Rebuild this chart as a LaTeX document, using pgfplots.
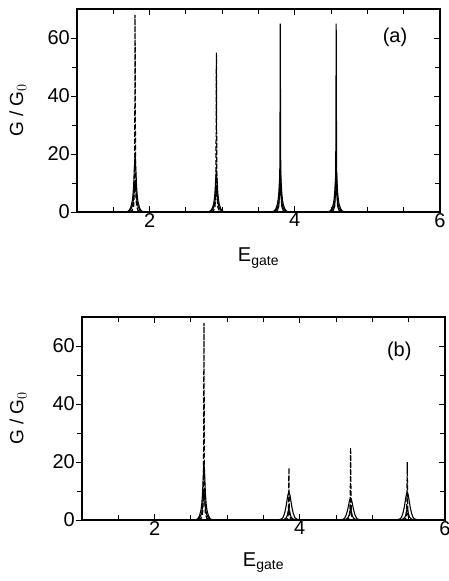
\documentclass[border=0pt]{standalone}
\usepackage{pgfplots}
\pgfplotsset{compat=1.18}
\usepackage{fontspec}
\setmainfont{Liberation Sans}
\pgfplotsset{
  common/.style={
    scale only axis, width=363pt, height=203pt,
    xmin=1, xmax=6, ymin=0, ymax=70,
    axis line style={line width=1.3pt},
    /pgf/number format/assume math mode=true,
    tick style={line width=1pt, black},
    major tick length=6pt, minor tick length=5pt,
    ticklabel style={font=\fontsize{20}{22}\selectfont},
    xlabel style={font=\fontsize{20}{22}\selectfont},
    ylabel style={font=\fontsize{19}{21}\selectfont},
  },
  mainax/.style={common,
    tick align=inside,
    xtick={2,4,6}, minor xtick={1.5,2.5,3,3.5,4.5,5,5.5},
    xticklabel style={inner sep=1pt},
    ytick={0,20,40,60}, minor ytick={10,30,50},
    ytick pos=right, yticklabels={},
  },
  leftax/.style={common,
    axis line style={draw=none},
    tick align=outside,
    xtick=\empty,
    ytick={0,20,40,60}, minor ytick={10,30,50},
    ytick pos=left,
    yticklabel style={inner sep=1pt},
  },
  spk/.style={black, line width=1.2pt, dash pattern=on 5pt off 2pt},
  spks/.style={black, line width=1.1pt},
  sol/.style={black, line width=1.1pt},
}
\begin{document}
\begin{tikzpicture}
\path[use as bounding box] (-77pt,-369pt) rectangle (371pt,212pt);
% ---------------- panel (a)
\begin{axis}[leftax, at={(0pt,0pt)}, anchor=south west,
  ylabel={G / G$_0$},
  ylabel style={at={(axis description cs:-0.163,0.5)}, rotate=0, anchor=center}]
\end{axis}
\begin{axis}[mainax, at={(0pt,0pt)}, anchor=south west,
  xlabel={E$_{\mathrm{gate}}$},
  xlabel style={at={(axis description cs:0.5,-0.227)}, anchor=center}]
% peak 1.80
\addplot[spk] coordinates {(1.72,0) (1.76,0.54) (1.78,2.04) (1.79,6.8) (1.794,17) (1.797,37.4) (1.80,68) (1.803,37.4) (1.806,17) (1.81,6.8) (1.82,2.04) (1.84,0.54) (1.88,0)};
\addplot[sol] coordinates {(1.66,0) (1.70,0.2) (1.72,0.6) (1.74,1.6) (1.76,3.6) (1.77,5.6) (1.78,9) (1.79,15) (1.80,20) (1.81,15) (1.82,9) (1.83,5.6) (1.84,3.6) (1.86,1.6) (1.88,0.6) (1.90,0.2) (1.94,0)};
\addplot[sol] coordinates {(1.66,0) (1.70,0.11) (1.72,0.33) (1.74,0.88) (1.76,1.98) (1.77,3.08) (1.78,4.95) (1.79,8.25) (1.80,11) (1.81,8.25) (1.82,4.95) (1.83,3.08) (1.84,1.98) (1.86,0.88) (1.88,0.33) (1.90,0.11) (1.94,0)};
% peak 2.92
\addplot[spk] coordinates {(2.84,0) (2.88,0.44) (2.90,1.65) (2.91,5.5) (2.914,13.75) (2.917,30.25) (2.92,55) (2.923,30.25) (2.926,13.75) (2.93,5.5) (2.94,1.65) (2.96,0.44) (3.00,0)};
\addplot[sol] coordinates {(2.78,0) (2.82,0.145) (2.84,0.435) (2.86,1.16) (2.88,2.61) (2.89,4.06) (2.90,6.525) (2.91,10.875) (2.92,14.5) (2.93,10.875) (2.94,6.525) (2.95,4.06) (2.96,2.61) (2.98,1.16) (3.00,0.435) (3.02,0.145) (3.06,0)};
\addplot[sol] coordinates {(2.78,0) (2.82,0.08) (2.84,0.24) (2.86,0.64) (2.88,1.44) (2.89,2.24) (2.90,3.6) (2.91,6) (2.92,8) (2.93,6) (2.94,3.6) (2.95,2.24) (2.96,1.44) (2.98,0.64) (3.00,0.24) (3.02,0.08) (3.06,0)};
% peak 3.80
\addplot[spks] coordinates {(3.72,0) (3.76,0.52) (3.78,1.95) (3.79,6.5) (3.794,16.25) (3.797,35.75) (3.80,65) (3.803,35.75) (3.806,16.25) (3.81,6.5) (3.82,1.95) (3.84,0.52) (3.88,0)};
\addplot[sol] coordinates {(3.66,0) (3.70,0.15) (3.72,0.45) (3.74,1.2) (3.76,2.7) (3.77,4.2) (3.78,6.75) (3.79,11.25) (3.80,15) (3.81,11.25) (3.82,6.75) (3.83,4.2) (3.84,2.7) (3.86,1.2) (3.88,0.45) (3.90,0.15) (3.94,0)};
\addplot[sol] coordinates {(3.66,0) (3.70,0.08) (3.72,0.24) (3.74,0.64) (3.76,1.44) (3.77,2.24) (3.78,3.6) (3.79,6) (3.80,8) (3.81,6) (3.82,3.6) (3.83,2.24) (3.84,1.44) (3.86,0.64) (3.88,0.24) (3.90,0.08) (3.94,0)};
% peak 4.57
\addplot[spks] coordinates {(4.49,0) (4.53,0.52) (4.55,1.95) (4.56,6.5) (4.564,16.25) (4.567,35.75) (4.57,65) (4.573,35.75) (4.576,16.25) (4.58,6.5) (4.59,1.95) (4.61,0.52) (4.65,0)};
\addplot[sol] coordinates {(4.43,0) (4.47,0.15) (4.49,0.45) (4.51,1.2) (4.53,2.7) (4.54,4.2) (4.55,6.75) (4.56,11.25) (4.57,15) (4.58,11.25) (4.59,6.75) (4.60,4.2) (4.61,2.7) (4.63,1.2) (4.65,0.45) (4.67,0.15) (4.71,0)};
\addplot[sol] coordinates {(4.43,0) (4.47,0.08) (4.49,0.24) (4.51,0.64) (4.53,1.44) (4.54,2.24) (4.55,3.6) (4.56,6) (4.57,8) (4.58,6) (4.59,3.6) (4.60,2.24) (4.61,1.44) (4.63,0.64) (4.65,0.24) (4.67,0.08) (4.71,0)};
\node[font=\fontsize{20}{22}\selectfont] at (axis cs:5.38,60.3) {(a)};
\end{axis}
% ---------------- panel (b)
\begin{axis}[leftax, at={(5pt,-308pt)}, anchor=south west,
  ylabel={G / G$_0$},
  ylabel style={at={(axis description cs:-0.176,0.5)}, rotate=0, anchor=center}]
\end{axis}
\begin{axis}[mainax, at={(5pt,-308pt)}, anchor=south west,
  xlabel={E$_{\mathrm{gate}}$},
  xlabel style={at={(axis description cs:0.5,-0.21)}, anchor=center}]
% peak 2.68
\addplot[spk] coordinates {(2.60,0) (2.64,0.54) (2.66,2.04) (2.67,6.8) (2.674,17) (2.677,37.4) (2.68,68) (2.683,37.4) (2.686,17) (2.69,6.8) (2.70,2.04) (2.72,0.54) (2.76,0)};
\addplot[sol] coordinates {(2.54,0) (2.58,0.2) (2.60,0.6) (2.62,1.6) (2.64,3.6) (2.65,5.6) (2.66,9) (2.67,15) (2.68,20) (2.69,15) (2.70,9) (2.71,5.6) (2.72,3.6) (2.74,1.6) (2.76,0.6) (2.78,0.2) (2.82,0)};
\addplot[sol] coordinates {(2.54,0) (2.58,0.1) (2.60,0.3) (2.62,0.8) (2.64,1.8) (2.65,2.8) (2.66,4.5) (2.67,7.5) (2.68,10) (2.69,7.5) (2.70,4.5) (2.71,2.8) (2.72,1.8) (2.74,0.8) (2.76,0.3) (2.78,0.1) (2.82,0)};
% peak 3.85
\addplot[spk] coordinates {(3.77,0) (3.81,0.144) (3.83,0.54) (3.84,1.8) (3.844,4.5) (3.847,9.9) (3.85,18) (3.853,9.9) (3.856,4.5) (3.86,1.8) (3.87,0.54) (3.89,0.144) (3.93,0)};
\addplot[sol] coordinates {(3.67,0) (3.71,0.095) (3.75,0.38) (3.77,0.95) (3.79,2.28) (3.81,4.56) (3.82,6.175) (3.83,7.79) (3.84,9.025) (3.85,9.5) (3.86,9.025) (3.87,7.79) (3.88,6.175) (3.89,4.56) (3.91,2.28) (3.93,0.95) (3.95,0.38) (3.99,0.095) (4.03,0)};
\addplot[sol] coordinates {(3.71,0) (3.75,0.04) (3.77,0.12) (3.79,0.32) (3.81,0.72) (3.82,1.12) (3.83,1.8) (3.84,3) (3.85,4) (3.86,3) (3.87,1.8) (3.88,1.12) (3.89,0.72) (3.91,0.32) (3.93,0.12) (3.95,0.04) (3.99,0)};
% peak 4.70
\addplot[spk] coordinates {(4.62,0) (4.66,0.2) (4.68,0.75) (4.69,2.5) (4.694,6.25) (4.697,13.75) (4.70,25) (4.703,13.75) (4.706,6.25) (4.71,2.5) (4.72,0.75) (4.74,0.2) (4.78,0)};
\addplot[sol] coordinates {(4.52,0) (4.56,0.075) (4.60,0.3) (4.62,0.75) (4.64,1.8) (4.66,3.6) (4.67,4.875) (4.68,6.15) (4.69,7.125) (4.70,7.5) (4.71,7.125) (4.72,6.15) (4.73,4.875) (4.74,3.6) (4.76,1.8) (4.78,0.75) (4.80,0.3) (4.84,0.075) (4.88,0)};
\addplot[sol] coordinates {(4.56,0) (4.60,0.04) (4.62,0.12) (4.64,0.32) (4.66,0.72) (4.67,1.12) (4.68,1.8) (4.69,3) (4.70,4) (4.71,3) (4.72,1.8) (4.73,1.12) (4.74,0.72) (4.76,0.32) (4.78,0.12) (4.80,0.04) (4.84,0)};
% peak 5.48
\addplot[spk] coordinates {(5.40,0) (5.44,0.16) (5.46,0.6) (5.47,2) (5.474,5) (5.477,11) (5.48,20) (5.483,11) (5.486,5) (5.49,2) (5.50,0.6) (5.52,0.16) (5.56,0)};
\addplot[sol] coordinates {(5.30,0) (5.34,0.094) (5.38,0.376) (5.40,0.94) (5.42,2.256) (5.44,4.512) (5.45,6.11) (5.46,7.708) (5.47,8.93) (5.48,9.4) (5.49,8.93) (5.50,7.708) (5.51,6.11) (5.52,4.512) (5.54,2.256) (5.56,0.94) (5.58,0.376) (5.62,0.094) (5.66,0)};
\addplot[sol] coordinates {(5.34,0) (5.38,0.04) (5.40,0.12) (5.42,0.32) (5.44,0.72) (5.45,1.12) (5.46,1.8) (5.47,3) (5.48,4) (5.49,3) (5.50,1.8) (5.51,1.12) (5.52,0.72) (5.54,0.32) (5.56,0.12) (5.58,0.04) (5.62,0)};
\node[font=\fontsize{20}{22}\selectfont] at (axis cs:5.37,58.3) {(b)};
\end{axis}
\end{tikzpicture}
\end{document}
